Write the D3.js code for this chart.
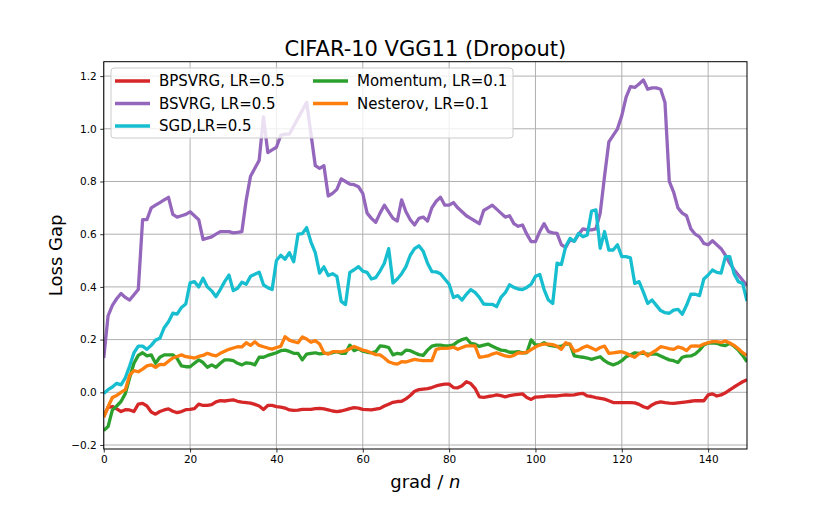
<!DOCTYPE html>
<html>
<head>
<meta charset="utf-8">
<script src="https://cdn.jsdelivr.net/npm/d3@7"></script>
<style>
  body { margin: 0; background: #fff; }
  svg { display: block; }
  text { font-family: "DejaVu Sans", sans-serif; }
</style>
</head>
<body>
<div id="chart"></div>
<script>
// values, one per grad/n step (0..149)
const bpsvrg = [
  -0.09,-0.057,-0.054,-0.063,-0.073,-0.066,-0.067,-0.073,-0.045,-0.042,
  -0.052,-0.075,-0.083,-0.073,-0.067,-0.063,-0.072,-0.077,-0.073,-0.066,
  -0.065,-0.062,-0.045,-0.05,-0.05,-0.047,-0.036,-0.032,-0.033,-0.031,
  -0.029,-0.034,-0.037,-0.039,-0.041,-0.046,-0.052,-0.065,-0.05,-0.05,
  -0.054,-0.056,-0.06,-0.067,-0.069,-0.068,-0.065,-0.065,-0.065,-0.062,
  -0.061,-0.063,-0.067,-0.071,-0.073,-0.071,-0.067,-0.062,-0.058,-0.06,
  -0.065,-0.066,-0.067,-0.064,-0.061,-0.052,-0.045,-0.038,-0.035,-0.034,
  -0.025,-0.012,0.004,0.01,0.012,0.014,0.018,0.024,0.028,0.031,
  0.031,0.018,0.017,0.025,0.04,0.033,0.015,-0.017,-0.019,-0.016,
  -0.014,-0.01,-0.013,-0.017,-0.013,-0.01,-0.008,-0.006,-0.02,-0.027,
  -0.018,-0.017,-0.016,-0.014,-0.014,-0.014,-0.012,-0.01,-0.011,-0.01,
  -0.006,-0.004,-0.014,-0.016,-0.02,-0.023,-0.026,-0.032,-0.039,-0.039,
  -0.039,-0.039,-0.039,-0.04,-0.046,-0.055,-0.06,-0.048,-0.04,-0.036,
  -0.039,-0.041,-0.042,-0.04,-0.038,-0.036,-0.034,-0.032,-0.032,-0.032,
  -0.01,-0.006,-0.014,-0.01,-0.002,0.009,0.02,0.03,0.04,0.048
];

const bsvrg = [
  0.13,0.29,0.33,0.355,0.375,0.36,0.35,0.37,0.39,0.655,
  0.655,0.70,0.71,0.72,0.73,0.74,0.675,0.665,0.67,0.675,
  0.685,0.67,0.655,0.58,0.585,0.59,0.60,0.61,0.61,0.61,
  0.605,0.607,0.61,0.73,0.82,0.85,0.88,1.045,0.91,0.92,
  0.93,0.975,0.98,0.98,1.01,1.04,1.07,1.10,0.98,0.86,
  0.85,0.86,0.745,0.755,0.77,0.81,0.80,0.79,0.788,0.78,
  0.755,0.68,0.66,0.645,0.68,0.71,0.685,0.66,0.65,0.73,
  0.685,0.655,0.635,0.66,0.665,0.65,0.70,0.725,0.74,0.71,
  0.71,0.72,0.70,0.685,0.67,0.66,0.65,0.64,0.69,0.70,
  0.71,0.695,0.68,0.665,0.67,0.64,0.63,0.635,0.60,0.572,
  0.572,0.61,0.64,0.61,0.605,0.603,0.56,0.55,0.578,0.574,
  0.60,0.62,0.616,0.616,0.62,0.68,0.82,0.95,0.975,1.00,
  1.05,1.12,1.16,1.157,1.17,1.185,1.15,1.155,1.155,1.15,
  1.10,0.80,0.76,0.70,0.68,0.67,0.62,0.60,0.59,0.565,
  0.56,0.575,0.56,0.545,0.52,0.49,0.465,0.445,0.425,0.405
];

const sgd = [
  -0.005,0.01,0.02,0.034,0.028,0.055,0.10,0.15,0.175,0.175,
  0.163,0.178,0.198,0.205,0.245,0.268,0.30,0.297,0.322,0.335,
  0.415,0.42,0.40,0.433,0.40,0.385,0.363,0.39,0.42,0.445,
  0.386,0.395,0.418,0.41,0.44,0.448,0.456,0.408,0.397,0.39,
  0.50,0.52,0.505,0.53,0.495,0.60,0.602,0.625,0.57,0.53,
  0.452,0.476,0.443,0.45,0.44,0.345,0.333,0.455,0.465,0.477,
  0.46,0.455,0.43,0.435,0.46,0.49,0.545,0.415,0.43,0.45,
  0.477,0.52,0.545,0.556,0.535,0.49,0.458,0.457,0.45,0.43,
  0.41,0.36,0.367,0.35,0.372,0.39,0.379,0.36,0.335,0.334,
  0.334,0.325,0.36,0.378,0.408,0.398,0.392,0.39,0.398,0.41,
  0.44,0.447,0.39,0.35,0.337,0.49,0.485,0.553,0.584,0.573,
  0.603,0.59,0.597,0.688,0.692,0.546,0.61,0.54,0.54,0.56,
  0.515,0.515,0.51,0.413,0.42,0.38,0.337,0.35,0.33,0.31,
  0.302,0.30,0.312,0.315,0.296,0.33,0.372,0.372,0.367,0.43,
  0.445,0.464,0.455,0.452,0.515,0.515,0.45,0.42,0.413,0.346
];

const momentum = [
  -0.145,-0.13,-0.067,-0.052,-0.035,-0.005,0.055,0.11,0.14,0.15,
  0.138,0.142,0.11,0.133,0.142,0.142,0.142,0.128,0.10,0.097,
  0.097,0.11,0.123,0.113,0.095,0.104,0.095,0.11,0.123,0.123,
  0.12,0.11,0.104,0.112,0.11,0.104,0.133,0.133,0.14,0.145,
  0.15,0.158,0.16,0.155,0.148,0.148,0.123,0.145,0.148,0.15,
  0.146,0.148,0.148,0.15,0.154,0.148,0.148,0.179,0.158,0.165,
  0.156,0.152,0.15,0.154,0.176,0.174,0.17,0.142,0.148,0.145,
  0.16,0.158,0.15,0.143,0.14,0.16,0.175,0.179,0.179,0.176,
  0.176,0.18,0.192,0.20,0.205,0.186,0.183,0.174,0.179,0.183,
  0.175,0.167,0.16,0.158,0.152,0.152,0.154,0.15,0.15,0.199,
  0.18,0.18,0.188,0.179,0.176,0.173,0.175,0.183,0.183,0.138,
  0.135,0.133,0.13,0.125,0.13,0.135,0.12,0.11,0.104,0.11,
  0.12,0.135,0.142,0.15,0.148,0.148,0.145,0.145,0.145,0.138,
  0.13,0.123,0.12,0.113,0.133,0.137,0.138,0.145,0.16,0.18,
  0.187,0.188,0.186,0.18,0.177,0.186,0.175,0.16,0.14,0.116
];

const nesterov = [
  -0.095,-0.055,-0.02,-0.012,0.0,0.01,0.065,0.082,0.078,0.088,
  0.10,0.104,0.095,0.106,0.105,0.118,0.13,0.136,0.142,0.135,
  0.133,0.13,0.136,0.14,0.148,0.142,0.138,0.148,0.156,0.163,
  0.168,0.173,0.172,0.188,0.178,0.192,0.178,0.173,0.168,0.164,
  0.17,0.174,0.211,0.198,0.192,0.188,0.21,0.202,0.19,0.196,
  0.183,0.15,0.145,0.154,0.154,0.153,0.157,0.165,0.174,0.167,
  0.16,0.156,0.15,0.143,0.142,0.13,0.116,0.11,0.107,0.116,
  0.115,0.12,0.125,0.122,0.12,0.12,0.12,0.163,0.167,0.167,
  0.168,0.171,0.163,0.17,0.176,0.176,0.176,0.133,0.135,0.138,
  0.145,0.15,0.144,0.138,0.135,0.14,0.15,0.149,0.152,0.162,
  0.172,0.18,0.183,0.183,0.181,0.175,0.163,0.188,0.182,0.155,
  0.16,0.17,0.176,0.168,0.16,0.17,0.175,0.148,0.15,0.152,
  0.154,0.148,0.14,0.133,0.146,0.154,0.138,0.15,0.16,0.173,
  0.17,0.166,0.163,0.172,0.168,0.158,0.175,0.176,0.175,0.183,
  0.188,0.192,0.192,0.189,0.195,0.187,0.178,0.165,0.15,0.14
];

const seriesNames = ["BPSVRG, LR=0.5", "BSVRG, LR=0.5", "SGD,LR=0.5", "Momentum, LR=0.1", "Nesterov, LR=0.1"];
const seriesColors = ["#d62728", "#9467bd", "#17becf", "#2ca02c", "#ff7f0e"];
const seriesValues = [bpsvrg, bsvrg, sgd, momentum, nesterov];

const xTicks = [0, 20, 40, 60, 80, 100, 120, 140];
const yTicks = [-0.2, 0.0, 0.2, 0.4, 0.6, 0.8, 1.0, 1.2];

const width = 830, height = 513;
const plot = { left: 103.75, right: 747, top: 61.7, bottom: 449 };

const svg = d3.select("#chart")
  .append("svg")
  .attr("width", width)
  .attr("height", height);

const x = d3.scaleLinear().domain([0, 149]).range([plot.left, plot.right]);
const y = d3.scaleLinear().domain([-0.2152, 1.2546]).range([plot.bottom, plot.top]);

// grid
const grid = svg.append("g").attr("class", "grid");
grid.selectAll("line.gx")
  .data(xTicks)
  .join("line")
    .attr("class", "gx")
    .attr("x1", d => x(d)).attr("x2", d => x(d))
    .attr("y1", plot.top).attr("y2", plot.bottom)
    .attr("stroke", "#b0b0b0")
    .attr("stroke-width", 1);
grid.selectAll("line.gy")
  .data(yTicks)
  .join("line")
    .attr("class", "gy")
    .attr("x1", plot.left).attr("x2", plot.right)
    .attr("y1", d => y(d)).attr("y2", d => y(d))
    .attr("stroke", "#b0b0b0")
    .attr("stroke-width", 1);

// lines
svg.append("defs").append("clipPath").attr("id", "clip")
  .append("rect")
    .attr("x", plot.left).attr("y", plot.top)
    .attr("width", plot.right - plot.left)
    .attr("height", plot.bottom - plot.top);

const line = d3.line()
  .x((d, i) => x(i))
  .y(d => y(d));

svg.append("g")
  .attr("clip-path", "url(#clip)")
  .selectAll("path.series")
  .data(seriesValues)
  .join("path")
    .attr("class", "series")
    .attr("d", line)
    .attr("fill", "none")
    .attr("stroke", (d, i) => seriesColors[i])
    .attr("stroke-width", 3.3)
    .attr("stroke-linejoin", "round")
    .attr("stroke-linecap", "butt");

// axes
const fmtY = v => d3.format(".1f")(v).replace("-", "\u2212");

const xAxis = svg.append("g")
  .attr("transform", `translate(0,${plot.bottom})`)
  .call(d3.axisBottom(x).tickValues(xTicks).tickSize(3.5).tickPadding(3.5).tickFormat(d3.format("d")));

const yAxis = svg.append("g")
  .attr("transform", `translate(${plot.left},0)`)
  .call(d3.axisLeft(y).tickValues(yTicks).tickSize(3.5).tickPadding(3.5).tickFormat(fmtY));

[xAxis, yAxis].forEach(a => {
  a.select(".domain").remove();
  a.selectAll(".tick line").attr("stroke", "#000").attr("stroke-width", 0.8);
  a.selectAll(".tick text")
    .attr("fill", "#000")
    .style("font-family", "DejaVu Sans")
    .style("font-size", "10.5px");
});

// frame
svg.append("rect")
  .attr("x", plot.left).attr("y", plot.top)
  .attr("width", plot.right - plot.left)
  .attr("height", plot.bottom - plot.top)
  .attr("fill", "none")
  .attr("stroke", "#000")
  .attr("stroke-width", 1);

// title and labels
svg.append("text")
  .attr("x", (plot.left + plot.right) / 2)
  .attr("y", 56)
  .attr("text-anchor", "middle")
  .style("font-size", "21px")
  .text("CIFAR-10 VGG11 (Dropout)");

const xl = svg.append("text")
  .attr("x", (plot.left + plot.right) / 2)
  .attr("y", 488)
  .attr("text-anchor", "middle")
  .style("font-size", "18px");
xl.append("tspan").text("grad / ");
xl.append("tspan").style("font-style", "italic").text("n");

svg.append("text")
  .attr("transform", `translate(62,${(plot.top + plot.bottom) / 2}) rotate(-90)`)
  .attr("text-anchor", "middle")
  .style("font-size", "18px")
  .text("Loss Gap");

// legend
const legend = svg.append("g").attr("class", "legend");
legend.append("rect")
  .attr("x", 111).attr("y", 68)
  .attr("width", 402).attr("height", 70)
  .attr("rx", 3)
  .attr("fill", "#fff")
  .attr("fill-opacity", 0.8)
  .attr("stroke", "#cccccc")
  .attr("stroke-width", 1);

const legendItems = seriesNames.map((name, i) => ({
  name,
  color: seriesColors[i],
  col: i < 3 ? 0 : 1,
  row: i < 3 ? i : i - 3
}));

const colX = [115, 313];
const rowY = [81, 103.5, 126];

const li = legend.selectAll("g.item")
  .data(legendItems)
  .join("g")
    .attr("class", "item")
    .attr("transform", d => `translate(${colX[d.col]},${rowY[d.row]})`);

li.append("line")
  .attr("x1", 0).attr("x2", 35)
  .attr("stroke", d => d.color)
  .attr("stroke-width", 3.3);

li.append("text")
  .attr("x", 44)
  .attr("y", 5.3)
  .style("font-size", "15px")
  .text(d => d.name);
</script>
</body>
</html>
